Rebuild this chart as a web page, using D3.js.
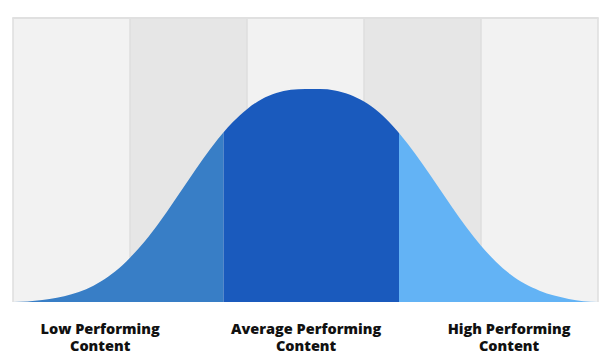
<!DOCTYPE html>
<html>
<head>
<meta charset="utf-8">
<script src="https://cdn.jsdelivr.net/npm/d3@7"></script>
<style>
  html, body { margin: 0; padding: 0; background: #ffffff; }
  svg { display: block; }
</style>
</head>
<body>
<svg id="chart" width="615" height="360"></svg>
<script>
// ---- data ----
// performance score axis (0..100), five background bands
const bandEdges = [0, 20, 40, 60, 80, 100];
// bell-curve samples: score and relative frequency (% of plot height)
const curveX = [0, 2.5, 5, 7.5, 10, 12.5, 15, 17.5, 20, 22.5, 25, 27.5, 30, 32.5, 35, 37.5, 40, 42.5, 45, 47.5, 50, 52.5, 55, 57.5, 60, 62.5, 65, 67.5, 70, 72.5, 75, 77.5, 80, 82.5, 85, 87.5, 90, 92.5, 95, 97.5, 100];
const curveY = [0, 0.2, 0.7, 1.5, 2.7, 4.5, 7.2, 10.8, 15.6, 21.3, 28.0, 35.4, 43.0, 50.4, 57.3, 63.2, 67.9, 71.4, 73.6, 74.7, 75.0, 75.0, 74.5, 73.1, 70.6, 66.9, 61.8, 55.6, 48.6, 41.1, 33.5, 26.3, 19.8, 14.3, 9.8, 6.4, 4.0, 2.3, 1.1, 0.3, 0];
// segment breaks between low / average / high performing
const segmentBreaks = [0, 36, 66, 100];
const segmentColors = ["#387ec6", "#1a5abd", "#63b3f5"];
const labelLines = [["Low Performing", "Content"], ["Average Performing", "Content"], ["High Performing", "Content"]];
const labelAt = [14.9, 50.1, 84.8];

// ---- layout ----
const svg = d3.select("#chart");
const mLeft = 13, mRight = 598, mTop = 18, mBottom = 302;
const x = d3.scaleLinear().domain([0, 100]).range([mLeft, mRight]);
const y = d3.scaleLinear().domain([0, 100]).range([mBottom, mTop]);

// background bands
svg.append("g").selectAll("rect")
  .data(d3.range(bandEdges.length - 1))
  .join("rect")
  .attr("x", i => x(bandEdges[i]))
  .attr("y", mTop)
  .attr("width", i => x(bandEdges[i + 1]) - x(bandEdges[i]))
  .attr("height", mBottom - mTop)
  .attr("fill", i => i % 2 === 0 ? "#f2f2f2" : "#e6e6e6");

// band separators
svg.append("g").selectAll("line")
  .data(bandEdges)
  .join("line")
  .attr("x1", d => x(d)).attr("x2", d => x(d))
  .attr("y1", mTop).attr("y2", mBottom)
  .attr("stroke", "#dedede").attr("stroke-width", 1.5);
svg.append("line")
  .attr("x1", mLeft - 0.75).attr("x2", mRight + 0.75)
  .attr("y1", mTop).attr("y2", mTop)
  .attr("stroke", "#e0e0e0").attr("stroke-width", 2);

// bell curve, split into three coloured segments via clip paths
const pts = curveX.map((v, i) => [v, curveY[i]]);
const area = d3.area()
  .x(d => x(d[0]))
  .y0(y(0))
  .y1(d => y(d[1]))
  .curve(d3.curveMonotoneX);

const defs = svg.append("defs");
segmentColors.forEach((c, i) => {
  defs.append("clipPath").attr("id", "seg" + i)
    .append("rect")
    .attr("x", x(segmentBreaks[i]))
    .attr("y", mTop)
    .attr("width", x(segmentBreaks[i + 1]) - x(segmentBreaks[i]))
    .attr("height", mBottom - mTop + 1);
  svg.append("path")
    .datum(pts)
    .attr("d", area)
    .attr("fill", c)
    .attr("clip-path", "url(#seg" + i + ")");
});

// labels
const lg = svg.append("g")
  .attr("font-family", "'Open Sans', sans-serif")
  .attr("font-weight", 800)
  .attr("font-size", 14.5)
  .attr("fill", "#111111")
  .attr("text-anchor", "middle");
labelLines.forEach((lines, i) => {
  lines.forEach((ln, j) => {
    lg.append("text")
      .attr("x", x(labelAt[i]))
      .attr("y", 334 + j * 17)
      .text(ln);
  });
});
</script>
</body>
</html>
